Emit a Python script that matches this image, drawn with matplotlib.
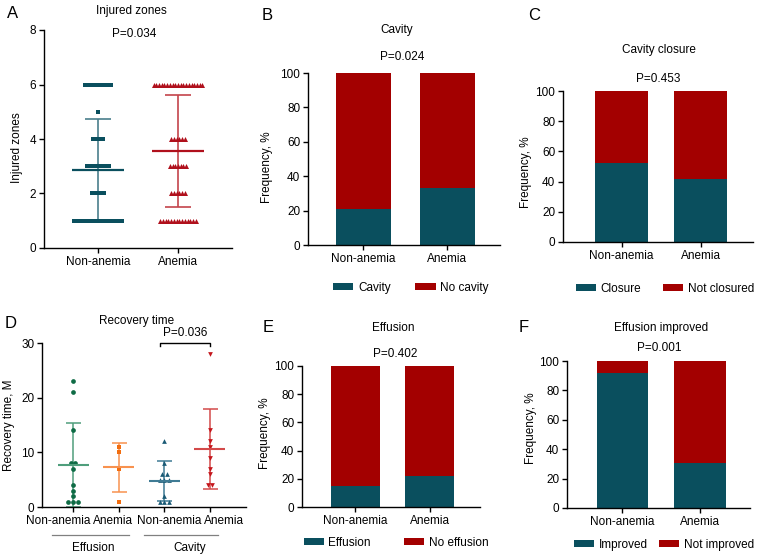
import matplotlib
matplotlib.use("Agg")
import matplotlib.pyplot as plt
import matplotlib.transforms as mtransforms
import numpy as np

plt.rcParams['font.family'] = ['Liberation Sans', 'DejaVu Sans']
plt.rcParams['font.size'] = 8.5
plt.rcParams['axes.linewidth'] = 1.0

W, H = 758, 557
TEAL = '#0a4f5e'
DRED = '#a30000'

# ---- data ----
groups = ['Non-anemia', 'Anemia']

# A: injured zones (value levels and number of patients at each level)
A_levels = [1, 2, 3, 4, 5, 6]
A_counts_non = [16, 5, 8, 4, 1, 9]
A_counts_ane = [14, 6, 7, 6, 0, 19]
A_mean = [2.85, 3.55]
A_sd = [1.9, 2.05]

# B-F: stacked percentages (lower segment)
B_low = [21, 33]
C_low = [52, 41.5]
E_low = [15, 22]
F_low = [92, 30.5]

# D: recovery time, months
D_labels = ['Non-anemia', 'Anemia', 'Non-anemia', 'Anemia']
D_eff_non = [23, 21, 14, 8, 8, 7, 4, 3, 2, 1, 1, 1]
D_eff_ane = [11, 10, 7, 1]
D_cav_non = [12, 8, 6, 6, 5, 5, 5, 2, 1, 1, 1]
D_cav_ane = [28, 14, 12, 11, 9, 7, 6, 4, 4]
D_mean = [7.75, 7.25, 4.75, 10.6]
D_sd = [7.7, 4.5, 3.6, 7.3]

fig = plt.figure(figsize=(W / 100, H / 100), dpi=100)


def px_axes(l, r, t, b):
    return fig.add_axes([l / W, 1 - b / H, (r - l) / W, (b - t) / H])


def ftext(x, y, s, **kw):
    fig.text(x / W, 1 - y / H, s, ha='center', va='center', **kw)


def style(ax):
    for s in ['top', 'right']:
        ax.spines[s].set_visible(False)
    ax.tick_params(direction='out', length=3.5, width=1, pad=2, labelsize=8.5)


def ylab(ax, s, xpx, ypx, box):
    # xpx is the visual centre of the rotated label; the anchor is its right edge
    l, r, t, b = box
    ax.set_ylabel(s, fontsize=8.5)
    ax.yaxis.set_label_coords((xpx + 5 - l) / (r - l), (b - ypx) / (b - t))


def spread(vals, step):
    # spread equal values sideways, like a dot plot
    vals = np.asarray(vals, float)
    xs = np.zeros(len(vals))
    for v in np.unique(vals):
        idx = np.where(vals == v)[0]
        xs[idx] = (np.arange(len(idx)) - (len(idx) - 1) / 2) * step
    return xs


# ---- A ----
boxA = (44, 232, 30, 248)
axA = px_axes(*boxA)
style(axA)
for i, (counts, col, lcol, mk, ms, stp) in enumerate([
        (A_counts_non, TEAL, '#4a7f8c', 's', 3.4, 0.04),
        (A_counts_ane, '#b0101c', '#c4444c', '^', 3.6, 0.034)]):
    vals = np.repeat(A_levels, counts)
    axA.scatter(i + spread(vals, stp), vals, marker=mk, s=ms ** 2, color=col,
                linewidths=0, zorder=3)
    axA.errorbar(i, A_mean[i], yerr=A_sd[i], color=lcol, capsize=9.5,
                 elinewidth=1.2, capthick=1.2, zorder=2)
    axA.hlines(A_mean[i], i - 0.33, i + 0.33, color=col, lw=1.6, zorder=4)
axA.set_xlim(-0.675, 1.675)
axA.set_ylim(0, 8)
axA.set_yticks([0, 2, 4, 6, 8])
axA.set_xticks([0, 1])
axA.set_xticklabels(groups)
ylab(axA, 'Injured zones', 18, 148, boxA)
ftext(131, 11, 'Injured zones')
ftext(134, 34, 'P=0.034')
ftext(13, 14, 'A', fontsize=12)


# ---- stacked bars ----
def stacked(box, low, xlim, width, legend, lab_xy, title, title_y, p, p_y,
            leg_xy, colsp, letter, let_xy):
    ax = px_axes(*box)
    style(ax)
    low = np.array(low, float)
    x = np.arange(2)
    ax.bar(x, low, width, color=TEAL, label=legend[0], zorder=2)
    ax.bar(x, 100 - low, width, bottom=low, color=DRED, label=legend[1], zorder=2)
    ax.set_xlim(*xlim)
    ax.set_ylim(0, 100)
    ax.set_yticks([0, 20, 40, 60, 80, 100])
    ax.set_xticks(x)
    ax.set_xticklabels(groups)
    ylab(ax, 'Frequency, %', lab_xy[0], lab_xy[1], box)
    ftext(title[1], title_y, title[0])
    ftext(p[1], p_y, p[0])
    ftext(let_xy[0], let_xy[1], letter, fontsize=12)
    ax.legend(loc='center', bbox_to_anchor=(leg_xy[0] / W, 1 - leg_xy[1] / H),
              bbox_transform=fig.transFigure, ncol=2, frameon=False,
              handlelength=1.7, handleheight=0.55, columnspacing=colsp,
              handletextpad=0.4, fontsize=8.5, borderpad=0, borderaxespad=0)
    return ax


stacked((308, 500, 73, 245), B_low, (-0.655, 1.63), 0.655, ['Cavity', 'No cavity'],
        (268, 167), ('Cavity', 397), 30, ('P=0.024', 402), 57, (411, 288), 2.1, 'B', (267, 15))
stacked((563, 753, 91, 242), C_low, (-0.74, 1.66), 0.67, ['Closure', 'Not closured'],
        (527, 172), ('Cavity closure', 659), 50, ('P=0.453', 658), 79, (665, 289), 1.9, 'C', (534, 15))
stacked((302, 480, 366, 507), E_low, (-0.72, 1.68), 0.66, ['Effusion', 'No effusion'],
        (266, 433), ('Effusion', 393), 328, ('P=0.402', 395), 354, (396, 543), 2.8, 'E', (268, 327))
stacked((567, 750, 361, 508), F_low, (-0.716, 1.645), 0.66, ['Improved', 'Not improved'],
        (532, 428), ('Effusion improved', 661), 328, ('P=0.001', 659), 348, (664, 545), 0.9, 'F', (524, 327))

# ---- D ----
boxD = (42, 246, 343, 507)
axD = px_axes(*boxD)
style(axD)
D_sets = [D_eff_non, D_eff_ane, D_cav_non, D_cav_ane]
D_pcol = ['#0e6b45', '#f26d0f', '#1a5a75', '#c4161c']
D_lcol = ['#4f9e7c', '#f8924f', '#3f7b94', '#d34a4a']
D_mk = ['o', 's', '^', 'v']
for i, vals in enumerate(D_sets):
    axD.scatter(i + spread(vals, 0.1), vals, marker=D_mk[i], s=3.4 ** 2,
                color=D_pcol[i], linewidths=0, zorder=3)
    axD.errorbar(i, D_mean[i], yerr=D_sd[i], color=D_lcol[i], capsize=5.4,
                 elinewidth=1.1, capthick=1.1, zorder=2)
    axD.hlines(D_mean[i], i - 0.34, i + 0.34, color=D_lcol[i], lw=1.5, zorder=4)
axD.set_xlim(-0.68, 3.79)
axD.set_ylim(0, 30)
axD.set_yticks([0, 10, 20, 30])
axD.set_xticks(range(4))
axD.set_xticklabels(D_labels)
# labels sit side by side, nudged apart so they do not collide
for lbl, dx in zip(axD.get_xticklabels(), [-15, -6, 5, 14]):
    lbl.set_transform(lbl.get_transform() +
                      mtransforms.ScaledTranslation(dx / 100, 0, fig.dpi_scale_trans))
ylab(axD, 'Recovery time, M', 10, 425, boxD)
# significance bracket
axD.plot([1.9, 1.9, 3.0, 3.0], [29.4, 30, 30, 29.4], color='black', lw=1.0, clip_on=False)
axD.text(2.45, 31.9, 'P=0.036', ha='center', va='center', fontsize=8.5)
ftext(137, 321, 'Recovery time')
ftext(11, 323, 'D', fontsize=12)
# group lines below x labels
tr = mtransforms.blended_transform_factory(axD.transData, fig.transFigure)
for (x0, x1, xt, name) in [(-0.46, 1.23, 0.44, 'Effusion'), (1.55, 3.17, 2.56, 'Cavity')]:
    axD.plot([x0, x1], [1 - 535 / H] * 2, color='#808080', lw=0.9, transform=tr, clip_on=False)
    axD.text(xt, 1 - 548 / H, name, ha='center', va='center', transform=tr, fontsize=8.5)

fig.savefig('out.png', dpi=100)
